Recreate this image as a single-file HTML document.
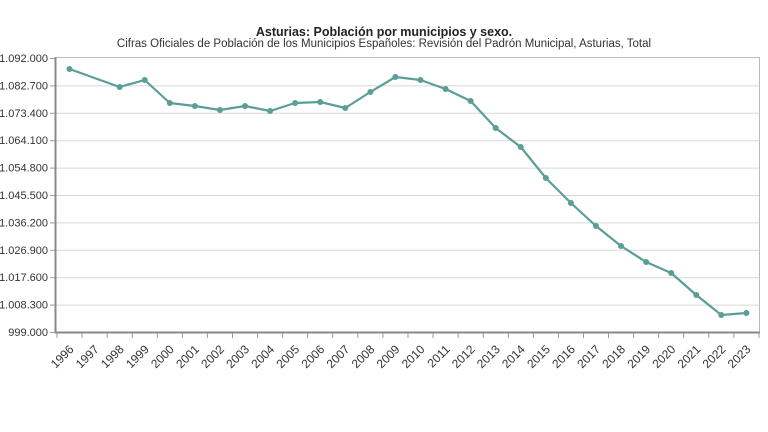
<!DOCTYPE html>
<html><head><meta charset="utf-8"><style>
html,body{margin:0;padding:0;background:#fff;}
svg{display:block;font-family:"Liberation Sans",Arial,sans-serif;}
</style></head><body>
<svg width="768" height="432" viewBox="0 0 768 432">
<text x="384" y="36" text-anchor="middle" font-size="12.5" font-weight="bold" fill="#222">Asturias: Población por municipios y sexo.</text>
<text x="384" y="47" text-anchor="middle" font-size="11.5" fill="#333">Cifras Oficiales de Población de los Municipios Españoles: Revisión del Padrón Municipal, Asturias, Total</text>
<g id="grid" stroke="#d8d8d8" stroke-width="1"></g>
<rect x="55.5" y="57.5" width="704" height="275" fill="none" stroke="#bbb"/>
<line x1="55.5" y1="57" x2="55.5" y2="333" stroke="#888" stroke-width="2"/>
<line x1="55" y1="332.5" x2="760" y2="332.5" stroke="#888" stroke-width="2"/>
<g id="ylab" font-size="11" fill="#333" text-anchor="end"></g>
<g id="ticks" stroke="#999"></g>
<g id="xlab" font-size="12" fill="#333" text-anchor="end"></g>
<polyline id="line" fill="none" stroke="#5a9e97" stroke-width="2.2" stroke-linejoin="round"/>
<g id="pts" fill="#5a9e97"></g>
</svg>
<script>
var ns="http://www.w3.org/2000/svg";
function el(t,a,p,txt){var e=document.createElementNS(ns,t);for(var k in a)e.setAttribute(k,a[k]);if(txt)e.textContent=txt;document.getElementById(p).appendChild(e);}
var yl=["1.092.000","1.082.700","1.073.400","1.064.100","1.054.800","1.045.500","1.036.200","1.026.900","1.017.600","1.008.300","999.000"];
for(var i=0;i<11;i++){var y=58+i*27.4;if(i>0&&i<10)el("line",{x1:56,x2:759,y1:y+.5,y2:y+.5},"grid");el("line",{x1:50,x2:55,y1:y+.5,y2:y+.5},"ticks");el("text",{x:48,y:y+4},"ylab",yl[i]);}
for(var i=0;i<=28;i++){var x=57+i*25.07;el("line",{x1:x,x2:x,y1:333,y2:338},"ticks");}
var ys={1996:69,1998:87,1999:80,2000:103,2001:106,2002:110,2003:106,2004:111,2005:103,2006:102,2007:108,2008:92,2009:77,2010:80,2011:89,2012:101,2013:128,2014:147,2015:178,2016:203,2017:226,2018:246,2019:262,2020:273,2021:295,2022:315,2023:313};
var pts=[];
for(var yr=1996;yr<=2023;yr++){var x=69.5+(yr-1996)*25.07;
el("text",{x:x+5,y:350,transform:"rotate(-45 "+(x+5)+" 350)"},"xlab",""+yr);
if(ys[yr]!==undefined){pts.push(x+","+ys[yr]);el("circle",{cx:x,cy:ys[yr],r:3},"pts");}}
document.getElementById("line").setAttribute("points",pts.join(" "));
</script>
</body></html>
